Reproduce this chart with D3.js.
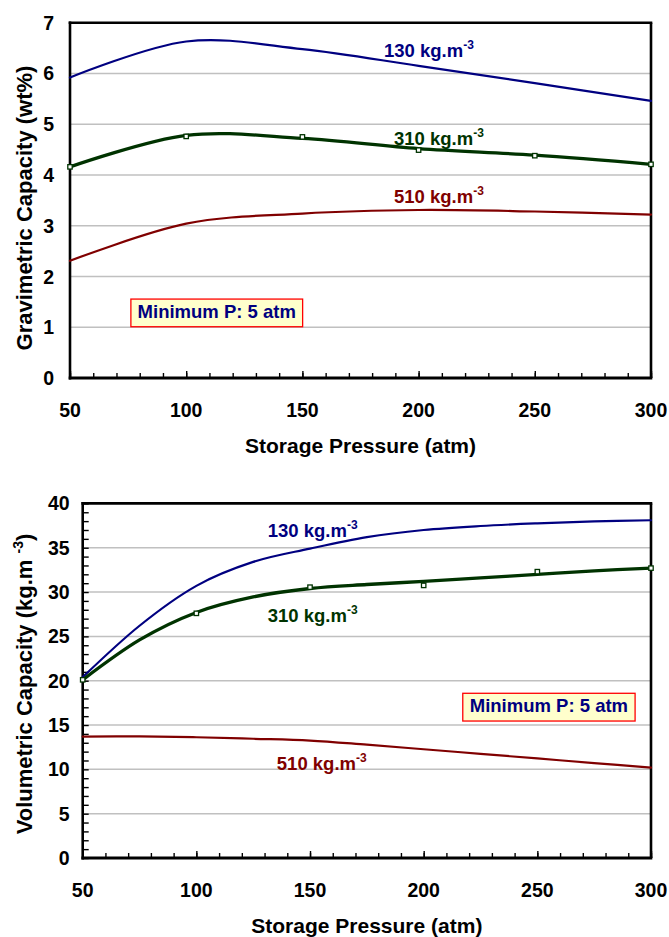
<!DOCTYPE html>
<html><head><meta charset="utf-8">
<script src="https://cdn.jsdelivr.net/npm/d3@7"></script>
<style>
body{margin:0;background:#fff;}
svg text{font-family:"Liberation Sans",Arial,sans-serif;font-weight:bold;}
</style></head><body>
<svg id="c" width="669" height="937"></svg>
<script>
// ---------- data ----------
const pressures = [50, 100, 150, 200, 250, 300];
const pressuresFine = [50, 75, 100, 125, 150, 175, 200, 225, 250, 275, 300];
const xTicks = [50, 100, 150, 200, 250, 300];
const gravTicks = [0, 1, 2, 3, 4, 5, 6, 7];
const volTicks = [0, 5, 10, 15, 20, 25, 30, 35, 40];
const densityLabels = ["130 kg.m", "310 kg.m", "510 kg.m"];
const supText = "-3";
const noteText = "Minimum P: 5 atm";
const xTitle = "Storage Pressure (atm)";
const gravTitle = "Gravimetric Capacity (wt%)";
const volTitle = "Volumetric Capacity (kg.m ";

// gravimetric (wt%), read at 50-atm steps
const grav130 = [5.92, 6.63, 6.48, 6.15, 5.81, 5.46];
const grav310Line = [4.16, 4.78, 4.72, 4.52, 4.39, 4.21];
const grav310Pts = [4.16, 4.76, 4.75, 4.49, 4.38, 4.21];
const grav510 = [2.31, 3.04, 3.24, 3.31, 3.28, 3.22];

// volumetric (kg/m3), curves read at 25-atm steps, markers at 50-atm steps
const vol130 = [20.4, 26.2, 30.7, 33.4, 34.9, 36.2, 37.0, 37.45, 37.75, 37.98, 38.1];
const vol310Line = [20.1, 24.6, 27.7, 29.45, 30.4, 30.85, 31.2, 31.6, 32.0, 32.4, 32.7];
const vol310Pts = [20.1, 27.6, 30.55, 30.75, 32.3, 32.7];
const vol510 = [13.7, 13.72, 13.62, 13.45, 13.25, 12.78, 12.27, 11.75, 11.23, 10.71, 10.2];

// ---------- drawing ----------
const svg = d3.select("#c");
const colors = ["#000080", "#003300", "#800000"];
const widths = [2.2, 3.3, 2.2];
const FONT_TICK = 19.5, FONT_TITLE = 21, FONT_YTITLE = 22, FONT_LABEL = 18.5;

function panel(cfg) {
  const g = svg.append("g");
  const x = d3.scaleLinear().domain([50, 300]).range([cfg.left, cfg.right]);
  const y = d3.scaleLinear().domain(cfg.yDomain).range([cfg.bottom, cfg.top]);

  // gridlines
  g.append("g").selectAll("line")
    .data(cfg.yTicks.filter(v => v > cfg.yDomain[0] && v < cfg.yDomain[1]))
    .join("line")
    .attr("x1", cfg.left).attr("x2", cfg.right)
    .attr("y1", d => y(d)).attr("y2", d => y(d))
    .attr("stroke", "#c0c0c0").attr("stroke-width", 1.5);

  // minor / major x ticks (inward)
  const minorX = d3.axisTop(x).tickValues(d3.range(50, 301, 10)).tickSize(5).tickFormat("");
  const majorX = d3.axisTop(x).tickValues(xTicks).tickSize(7).tickFormat("");
  [minorX, majorX].forEach(ax => {
    const a = g.append("g").attr("transform", `translate(0,${cfg.bottom})`).call(ax);
    a.select(".domain").remove();
    a.selectAll("line").attr("stroke", "#000").attr("stroke-width", 1.4);
  });
  if (cfg.yMinor) {
    const a = g.append("g").attr("transform", `translate(${cfg.left},0)`)
      .call(d3.axisRight(y).tickValues(cfg.yMinor).tickSize(6).tickFormat(""));
    a.select(".domain").remove();
    a.selectAll("line").attr("stroke", "#000").attr("stroke-width", 1.4);
  }

  // frame
  const fr = g.append("g").attr("stroke", "#000").attr("stroke-width", 2.6).attr("fill", "none");
  fr.append("line").attr("x1", cfg.left - 1.3).attr("x2", cfg.right + 1.3).attr("y1", cfg.top).attr("y2", cfg.top);
  fr.append("line").attr("x1", cfg.right).attr("x2", cfg.right).attr("y1", cfg.top).attr("y2", cfg.bottom);
  fr.append("line").attr("x1", cfg.left).attr("x2", cfg.left).attr("y1", cfg.top - 1.3).attr("y2", cfg.bottom + 1.5);
  fr.append("line").attr("x1", cfg.left - 1.3).attr("x2", cfg.right + 1.3).attr("y1", cfg.bottom).attr("y2", cfg.bottom).attr("stroke-width", 3);

  // series
  const xs = cfg.lineX;
  const line = d3.line().x((d, i) => x(xs[i])).y(d => y(d)).curve(d3.curveCardinal.tension(0));
  cfg.series.forEach((s, i) => {
    g.append("path").attr("d", line(s)).attr("fill", "none")
      .attr("stroke", colors[i]).attr("stroke-width", widths[i]).attr("stroke-linecap", "round");
  });
  // markers on 310 series
  g.append("g").selectAll("rect").data(cfg.pts).join("rect")
    .attr("x", (d, i) => x(pressures[i]) - 2.2).attr("y", d => y(d) - 2.2)
    .attr("width", 4.4).attr("height", 4.4)
    .attr("fill", "#fff").attr("stroke", colors[1]).attr("stroke-width", 1.3);

  // tick labels
  g.append("g").selectAll("text").data(xTicks).join("text")
    .attr("x", d => x(d)).attr("y", cfg.bottom + 38.5)
    .attr("text-anchor", "middle").attr("font-size", FONT_TICK).attr("fill", "#000")
    .text(d => d);
  g.append("g").selectAll("text").data(cfg.yTicks).join("text")
    .attr("x", cfg.left - cfg.yLabelGap).attr("y", d => y(d)).attr("dy", "0.36em")
    .attr("text-anchor", "end").attr("font-size", FONT_TICK).attr("fill", "#000")
    .text(d => d);

  // axis titles
  g.append("text").attr("x", (cfg.left + cfg.right) / 2).attr("y", cfg.bottom + cfg.xTitleGap)
    .attr("text-anchor", "middle").attr("font-size", FONT_TITLE).text(xTitle);
  const yt = g.append("text")
    .attr("transform", `translate(31.5,${cfg.yTitleCenter}) rotate(-90)`)
    .attr("text-anchor", "middle").attr("font-size", FONT_YTITLE);
  yt.append("tspan").text(cfg.yTitle);
  if (cfg.yTitleSup) {
    yt.append("tspan").attr("dy", -9).attr("font-size", 14).text(supText);
    yt.append("tspan").attr("dy", 9).text(")");
  }

  // series labels
  cfg.labels.forEach((L, i) => {
    const t = g.append("text").attr("x", x(L[0])).attr("y", y(L[1]))
      .attr("font-size", FONT_LABEL).attr("fill", colors[i]);
    t.append("tspan").text(densityLabels[i]);
    t.append("tspan").attr("dy", -8).attr("font-size", 12).text(supText);
  });

  // note box
  const b = cfg.box;
  g.append("rect").attr("x", x(b[0])).attr("y", y(b[3]))
    .attr("width", x(b[1]) - x(b[0])).attr("height", y(b[2]) - y(b[3]))
    .attr("fill", "#ffffcc").attr("stroke", "#ff0000").attr("stroke-width", 1.3);
  g.append("text").attr("x", (x(b[0]) + x(b[1])) / 2).attr("y", y(b[4]))
    .attr("text-anchor", "middle").attr("font-size", FONT_LABEL).attr("fill", "#000080")
    .text(noteText);
}

panel({
  left: 70, right: 651, top: 22.7, bottom: 378,
  yDomain: [0, 7], yTicks: gravTicks, yMinor: null, yLabelGap: 16,
  lineX: pressures,
  series: [grav130, grav310Line, grav510], pts: grav310Pts,
  xTitleGap: 75, yTitle: gravTitle, yTitleSup: false, yTitleCenter: 208,
  labels: [[185.1, 6.32], [189.4, 4.59], [189.4, 3.44]],
  box: [76.2, 150.1, 1.01, 1.555, 1.18]
});

panel({
  left: 82.7, right: 651, top: 503.4, bottom: 858,
  yDomain: [0, 40], yTicks: volTicks, yMinor: d3.range(0, 41, 1), yLabelGap: 13,
  lineX: pressuresFine,
  series: [vol130, vol310Line, vol510], pts: vol310Pts,
  xTitleGap: 75, yTitle: volTitle, yTitleSup: true, yTitleCenter: 684,
  labels: [[131.4, 36.25], [131.4, 26.65], [135.4, 9.93]],
  box: [217.2, 293.0, 15.45, 18.58, 16.5]
});
</script>
</body></html>
